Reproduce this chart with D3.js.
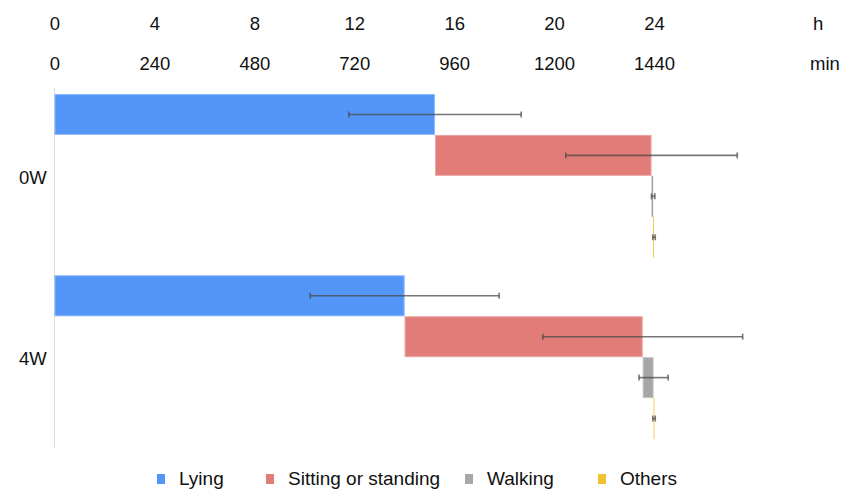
<!DOCTYPE html>
<html>
<head>
<meta charset="utf-8">
<script src="https://cdn.jsdelivr.net/npm/d3@7/dist/d3.min.js"></script>
<style>
  html, body { margin: 0; padding: 0; background: #fff; }
  svg { display: block; font-family: "Liberation Sans", Arial, Helvetica, sans-serif; }
</style>
</head>
<body>
<svg id="chart" width="842" height="489"></svg>
<script>
// Daily activity time budget (minutes per day), mean and SD per week
const groups = ["0W", "4W"];
const categories = ["Lying", "Sitting or standing", "Walking", "Others"];
const lying = [914, 841];
const sitting = [520, 572];
const walking = [4, 26];
const others = [2, 1];
const lyingSD = [207, 227];
const sittingSD = [206, 240];
const walkingSD = [4, 35];
const othersSD = [3, 3];
const hourTicks = [0, 4, 8, 12, 16, 20, 24];
const minuteTicks = [0, 240, 480, 720, 960, 1200, 1440];
const colors = ["#5495F8", "#E27C78", "#A7A7A7", "#F3C12F"];

const means = [lying, sitting, walking, others];
const sds = [lyingSD, sittingSD, walkingSD, othersSD];

const svg = d3.select("#chart");

const x = d3.scaleLinear().domain([0, 1440]).range([54.5, 654]);
const xh = d3.scaleLinear().domain([0, 24]).range(x.range());

const y = d3.scaleBand().domain(groups).range([94, 439]).paddingInner(0.097).paddingOuter(0);
const yRow = d3.scaleBand().domain(categories).range([0, y.bandwidth()]);

// Two top axes: hours and minutes
function topAxis(scale, ticks, baseline) {
  const g = svg.append("g")
    .attr("transform", `translate(0,${baseline})`)
    .call(d3.axisTop(scale).tickValues(ticks).tickSize(0).tickPadding(0).tickFormat(d3.format("d")));
  g.select(".domain").remove();
  g.selectAll("text")
    .attr("fill", "#111")
    .style("font-size", "18.5px")
    .style("font-family", "'Liberation Sans', Arial, sans-serif");
  return g;
}
topAxis(xh, hourTicks, 30);
topAxis(x, minuteTicks, 70);

svg.append("text").attr("x", 813).attr("y", 30).text("h")
  .attr("fill", "#111").style("font-size", "18.5px");
svg.append("text").attr("x", 810).attr("y", 70).text("min")
  .attr("fill", "#111").style("font-size", "18.5px");

// Vertical baseline at 0 min
svg.append("line")
  .attr("x1", x(0)).attr("x2", x(0))
  .attr("y1", 88).attr("y2", 448)
  .attr("stroke", "#dcdcdc").attr("stroke-width", 1);

// Build floating segments: each category starts where the previous one ends
const segs = [];
groups.forEach((grp, gi) => {
  let cum = 0;
  categories.forEach((cat, ci) => {
    const v = means[ci][gi];
    segs.push({ grp, cat, ci, start: cum, end: cum + v, sd: sds[ci][gi] });
    cum += v;
  });
});

const bars = svg.append("g");
bars.selectAll("rect")
  .data(segs)
  .join("rect")
  .attr("x", d => x(d.start))
  .attr("width", d => Math.max(0.8, x(d.end) - x(d.start)))
  .attr("y", d => y(d.grp) + yRow(d.cat))
  .attr("height", yRow.bandwidth())
  .attr("fill", d => colors[d.ci]);

// Soft light edge around the bars
bars.selectAll("rect.edge")
  .data(segs.filter(d => x(d.end) - x(d.start) > 3))
  .join("rect")
  .attr("class", "edge")
  .attr("x", d => x(d.start) + 0.5)
  .attr("width", d => x(d.end) - x(d.start) - 1)
  .attr("y", d => y(d.grp) + yRow(d.cat) + 0.5)
  .attr("height", yRow.bandwidth() - 1)
  .attr("fill", "none")
  .attr("stroke", "#fff")
  .attr("stroke-opacity", 0.35)
  .attr("stroke-width", 1);

// Error bars (± SD) at the end of each segment
const err = svg.append("g")
  .attr("stroke", "#4a4a4a")
  .attr("stroke-opacity", 0.75)
  .attr("stroke-width", 1.6);
segs.forEach(d => {
  const cy = y(d.grp) + yRow(d.cat) + yRow.bandwidth() / 2;
  const x1 = x(d.end - d.sd), x2 = x(d.end + d.sd);
  err.append("line").attr("x1", x1).attr("x2", x2).attr("y1", cy).attr("y2", cy);
  err.append("line").attr("x1", x1).attr("x2", x1).attr("y1", cy - 3).attr("y2", cy + 3);
  err.append("line").attr("x1", x2).attr("x2", x2).attr("y1", cy - 3).attr("y2", cy + 3);
});

// Group labels
svg.append("g").selectAll("text")
  .data(groups)
  .join("text")
  .attr("x", 19)
  .attr("y", d => y(d) + y.bandwidth() / 2 + 8)
  .attr("fill", "#111")
  .style("font-size", "18.5px")
  .text(d => d);

// Legend
const legendX = [157, 266, 465, 598];
const lg = svg.append("g");
categories.forEach((c, i) => {
  lg.append("rect")
    .attr("x", legendX[i]).attr("y", 474)
    .attr("width", 8).attr("height", 10)
    .attr("fill", colors[i]);
  lg.append("text")
    .attr("x", legendX[i] + 22).attr("y", 485)
    .attr("fill", "#111")
    .style("font-size", "19px")
    .text(c);
});
</script>
</body>
</html>
